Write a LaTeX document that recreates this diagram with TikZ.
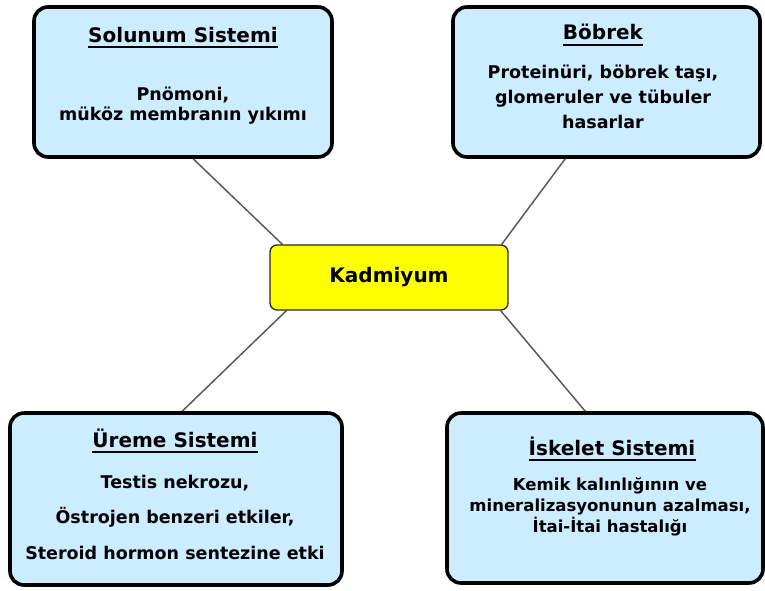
\documentclass[tikz,border=0pt]{standalone}
\usepackage{fontspec}
\setmainfont{DejaVu Sans}
\usetikzlibrary{calc,backgrounds}
\definecolor{organfill}{HTML}{CCECFF}
\definecolor{linegray}{HTML}{5A5A5A}
\definecolor{centerfill}{HTML}{FFFF00}
\begin{document}
\begin{tikzpicture}[x=1pt,y=-1pt,
  organbox/.style={draw=black, line width=3.6pt, rounded corners=14pt, fill=organfill},
  centerbox/.style={draw=black!85, line width=1.3pt, rounded corners=7pt, fill=centerfill,
    font=\bfseries\fontsize{20}{24}\selectfont},
  titletext/.style={inner sep=0pt, anchor=base, font=\bfseries\fontsize{20}{24}\selectfont},
  % multi-line body text: the base anchor sits on the last line
  bodytext/.style={inner sep=0pt, anchor=base, align=center,
    font=\bfseries\fontsize{17.5}{#1}\selectfont},
  bodytext/.default=21,
  link/.style={draw=linegray, line width=1.5pt},
  underl/.style={line width=1.8pt}
]
\useasboundingbox (0,0) rectangle (765,590);

% organ boxes and the central element
\node[organbox, minimum width=298pt, minimum height=150pt] (s1) at (183,82) {};
\node[organbox, minimum width=307pt, minimum height=150pt] (s2) at (606.5,82) {};
\node[organbox, minimum width=332pt, minimum height=172pt] (s3) at (176,499) {};
\node[organbox, minimum width=316pt, minimum height=170pt] (s4) at (605,498) {};
\node[centerbox, minimum width=238pt, minimum height=65pt] (k) at (389,277.5) {Kadmiyum};

% connectors, kept behind the boxes
\begin{scope}[on background layer]
  \draw[link] ($(s1.south west)+(161,0)$) -- ($(k.north west)+(13,0)$);
  \draw[link] ($(s2.south west)+(114,0)$) -- ($(k.north east)+(-7,0)$);
  \draw[link] ($(k.south west)+(17,0)$) -- ($(s3.north west)+(174,0)$);
  \draw[link] ($(k.south east)+(-8,0)$) -- ($(s4.north west)+(140,0)$);
\end{scope}

% Solunum Sistemi
\node[titletext] (t1) at (183,42) {Solunum Sistemi};
\draw[underl] ([yshift=-5pt]t1.base west) -- ([yshift=-5pt]t1.base east);
\node[bodytext=20] (b1) at (183,120) {Pnömoni,\\müköz membranın yıkımı};

% Böbrek
\node[titletext] (t2) at (603,39) {Böbrek};
\draw[underl] ([yshift=-6pt]t2.base west) -- ([yshift=-6pt]t2.base east);
\node[bodytext=25] (b2) at (603,128) {Proteinüri, böbrek taşı,\\glomeruler ve tübuler\\hasarlar};

% Üreme Sistemi
\node[titletext] (t3) at (175,447) {Üreme Sistemi};
\draw[underl] ([yshift=-5pt]t3.base west) -- ([yshift=-5pt]t3.base east);
\node[bodytext=35.5] (b3) at (175,559) {Testis nekrozu,\\Östrojen benzeri etkiler,\\Steroid hormon sentezine etki};

% İskelet Sistemi
\node[titletext] (t4) at (612,455) {İskelet Sistemi};
\draw[underl] ([yshift=-5pt]t4.base west) -- ([yshift=-5pt]t4.base east);
\node[bodytext, font=\bfseries\fontsize{16.5}{21}\selectfont] (b4) at (610,532)
  {Kemik kalınlığının ve\\mineralizasyonunun azalması,\\İtai-İtai hastalığı};
\end{tikzpicture}
\end{document}
